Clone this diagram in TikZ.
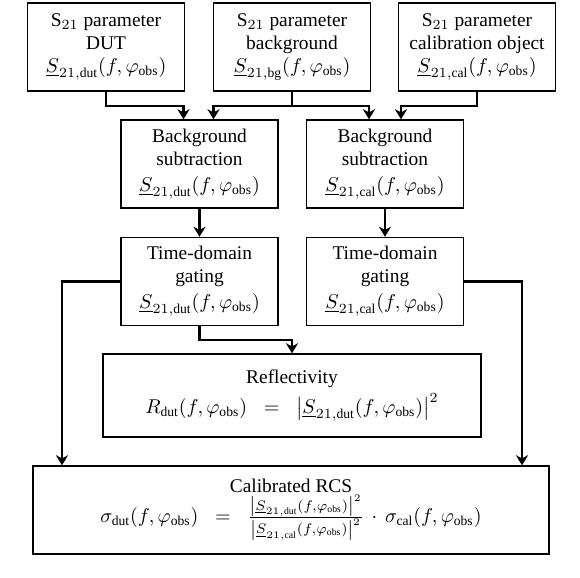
\documentclass[tikz,border=0pt]{standalone}
\usepackage{amsmath}
\usepackage{amssymb}
\usepackage{fontspec}
\setmainfont{Liberation Serif}
\usepackage{tikz}
\usetikzlibrary{arrows.meta}

\tikzset{
	blk/.style={draw, line width=0.7pt, align=center, inner sep=1pt,
		font=\fontsize{9.7}{11.5}\selectfont, minimum height=44pt},
	arr/.style={line width=1.2pt, -{Stealth[length=5pt,width=6pt,inset=1.5pt]}}
}

\newcommand{\Sdut}{\underline{S}_{21,\mathrm{dut}}(f,\varphi_\mathrm{obs})}
\newcommand{\Sbg}{\underline{S}_{21,\mathrm{bg}}(f,\varphi_\mathrm{obs})}
\newcommand{\Scal}{\underline{S}_{21,\mathrm{cal}}(f,\varphi_\mathrm{obs})}

\begin{document}
\begin{tikzpicture}[x=0.5pt,y=-0.5pt]
	\useasboundingbox (0,0) rectangle (580,578);

	% S21 parameter
	\node[blk, minimum width=78.5pt] (sdut) at (106,47) {S$_{21}$ parameter\\DUT\\$\Sdut$};
	\node[blk, minimum width=78.5pt] (sbg) at (292,47) {S$_{21}$ parameter\\background\\$\Sbg$};
	\node[blk, minimum width=78.5pt] (scal) at (477,47) {S$_{21}$ parameter\\calibration object\\$\Scal$};

	% background subtraction
	\node[blk, minimum width=78.5pt] (subdut) at (199.5,164) {Background\\subtraction\\[1.5pt]$\Sdut$};
	\node[blk, minimum width=78.5pt] (subcal) at (385,164) {Background\\subtraction\\[1.5pt]$\Scal$};

	% gating
	\node[blk, minimum width=78.5pt] (gatedut) at (199.5,281.5) {Time-domain\\gating\\[1.5pt]$\Sdut$};
	\node[blk, minimum width=78.5pt] (gatecal) at (385,281.5) {Time-domain\\gating\\[1.5pt]$\Scal$};

	% reflectivity
	\node[blk, minimum width=189pt, minimum height=41.5pt] (refl) at (292,395.5)
		{Reflectivity\\[2pt]$R_\mathrm{dut}(f,\varphi_\mathrm{obs})\;\;=\;\;\left|\Sdut\right|^2$};

	% calibrated RCS
	\node[blk, minimum width=258pt] (rcs) at (291,510)
		{Calibrated RCS\\$\sigma_\mathrm{dut}(f,\varphi_\mathrm{obs})\;\;=\;\;
		\frac{\left|\Sdut\right|^2}{\left|\Scal\right|^2}\,\cdot\,\sigma_\mathrm{cal}(f,\varphi_\mathrm{obs})$};

	% side lines
	\coordinate (lbus) at (62,282);
	\coordinate (rbus) at (522,282);

	% arrows
	\draw[arr] (sdut.south) -- ++(0,14) -| ([xshift=-8pt]subdut.north);
	\draw[arr] (sbg.south) -- ++(0,14) -| ([xshift=7pt]subdut.north);
	\draw[arr] (sbg.south) -- ++(0,14) -| ([xshift=-8pt]subcal.north);
	\draw[arr] (scal.south) -- ++(0,14) -| ([xshift=8pt]subcal.north);
	\draw[arr] (subdut) -- (gatedut);
	\draw[arr] (subcal) -- (gatecal);
	\draw[arr] (gatedut.south) -- ++(0,14) -| (refl.north);
	\draw[arr] (gatedut.west) -| (lbus |- rcs.north);
	\draw[arr] (gatecal.east) -| (rbus |- rcs.north);
\end{tikzpicture}
\end{document}
